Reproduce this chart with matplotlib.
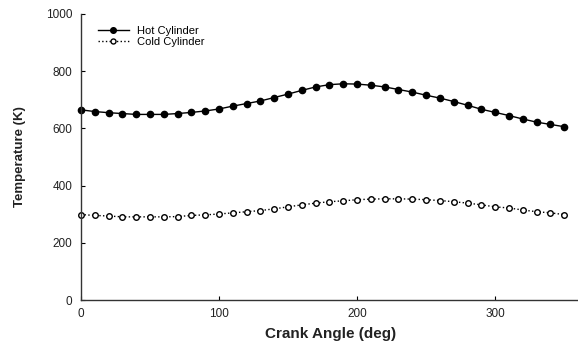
import matplotlib
matplotlib.use("Agg")
import matplotlib.pyplot as plt
import numpy as np

crank_angle = list(range(0, 360, 10))
hot_cylinder = [665, 659, 655, 652, 649, 649, 649, 652, 656, 661, 668, 678, 687, 696, 708,
                720, 733, 745, 753, 756, 755, 751, 745, 736, 727, 716, 706, 694, 681, 667,
                656, 645, 633, 622, 614, 606]
cold_cylinder = [299, 296, 294, 291, 291, 291, 291, 292, 296, 298, 301, 305, 309, 313, 319,
                 326, 333, 339, 344, 347, 351, 353, 354, 354, 353, 351, 348, 344, 339, 333,
                 326, 322, 315, 309, 305, 299]

plt.rcParams['font.family'] = ['Liberation Sans', 'DejaVu Sans']

fig = plt.figure(figsize=(5.78, 3.49), dpi=100)
ax = fig.add_axes([0.14, 0.14, 0.86, 0.82])

ax.plot(crank_angle, hot_cylinder, '-', color='black', lw=1.0, marker='o',
        markersize=4.5, markerfacecolor='black', markeredgecolor='black',
        label='Hot Cylinder', clip_on=False)
ax.plot(crank_angle, cold_cylinder, ':', color='black', lw=1.0, marker='o',
        markersize=4, markerfacecolor='white', markeredgecolor='black',
        markeredgewidth=1.0, label='Cold Cylinder', clip_on=False)

ax.set_xlim(0, 360)
ax.set_ylim(0, 1000)
ax.set_xticks([0, 100, 200, 300])
ax.set_yticks([0, 200, 400, 600, 800, 1000])
ax.tick_params(direction='in', length=3, width=0.8, labelsize=8.5, pad=6,
               labelcolor='#222222')
ax.spines['top'].set_visible(False)
ax.spines['right'].set_visible(False)
for s in ['left', 'bottom']:
    ax.spines[s].set_linewidth(1.0)
    ax.spines[s].set_color('#333333')

ax.set_xlabel('Crank Angle (deg)', fontsize=11, fontweight='bold', color='#222222')
ax.set_ylabel('Temperature (K)', fontsize=9.5, fontweight='bold', color='#222222')
ax.xaxis.set_label_coords(0.503, -0.095)
ax.yaxis.set_label_coords(-0.111, 0.5)

ax.legend(loc='upper left', bbox_to_anchor=(0.025, 0.975), frameon=False, fontsize=8,
          handlelength=2.8, handletextpad=0.7, labelspacing=0.15, borderaxespad=0.0,
          markerscale=0.9)

fig.savefig('out.png', dpi=100)
